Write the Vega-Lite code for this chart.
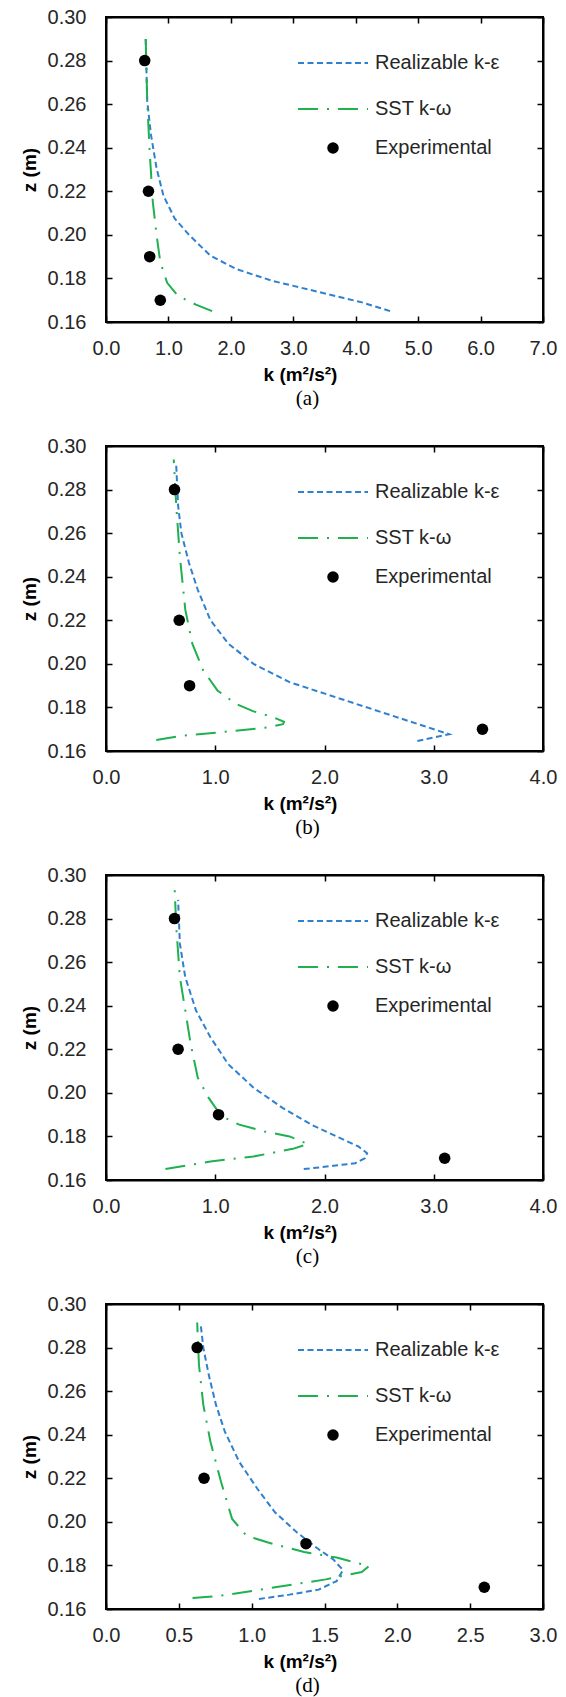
{"$schema":"https://vega.github.io/schema/vega-lite/v6.json","background":"white","padding":{"left":19,"top":6,"right":5,"bottom":0},"spacing":25,
"config":{"view":{"stroke":"black","strokeWidth":2},"axis":{"grid":false,"domain":true,"domainColor":"black","domainWidth":2,"ticks":true,"tickColor":"black","tickWidth":1.5,"tickSize":-6,"labelFont":"Liberation Sans","labelFontSize":20,"labelColor":"#262626","labelFlush":false,"labelOverlap":false,"titleFont":"Liberation Sans","titleFontSize":19,"titleFontWeight":"bold","titleColor":"black"},"legend":{"labelFont":"Liberation Sans","labelFontSize":20,"labelColor":"#262626","labelLimit":300},"title":{"font":"Liberation Serif","fontSize":21,"fontWeight":"normal","color":"black"}},
"datasets":{"L":[
{"p":"a","m":"R","k":0.635,"z":0.291},{"p":"a","m":"R","k":0.66,"z":0.2615},{"p":"a","m":"R","k":0.72,"z":0.246},{"p":"a","m":"R","k":0.81,"z":0.2306},{"p":"a","m":"R","k":0.92,"z":0.218},{"p":"a","m":"R","k":1.1,"z":0.2075},{"p":"a","m":"R","k":1.33,"z":0.2},{"p":"a","m":"R","k":1.67,"z":0.1905},{"p":"a","m":"R","k":2.08,"z":0.1844},{"p":"a","m":"R","k":2.65,"z":0.179},{"p":"a","m":"R","k":3.23,"z":0.175},{"p":"a","m":"R","k":3.81,"z":0.171},{"p":"a","m":"R","k":4.1,"z":0.169},{"p":"a","m":"R","k":4.55,"z":0.165},
{"p":"a","m":"S","k":0.635,"z":0.2915},{"p":"a","m":"S","k":0.66,"z":0.2615},{"p":"a","m":"S","k":0.7,"z":0.238},{"p":"a","m":"S","k":0.75,"z":0.215},{"p":"a","m":"S","k":0.81,"z":0.2},{"p":"a","m":"S","k":0.87,"z":0.1874},{"p":"a","m":"S","k":0.98,"z":0.178},{"p":"a","m":"S","k":1.15,"z":0.172},{"p":"a","m":"S","k":1.44,"z":0.168},{"p":"a","m":"S","k":1.7,"z":0.165},
{"p":"b","m":"R","k":0.643,"z":0.291},{"p":"b","m":"R","k":0.66,"z":0.2726},{"p":"b","m":"R","k":0.69,"z":0.26},{"p":"b","m":"R","k":0.76,"z":0.2463},{"p":"b","m":"R","k":0.84,"z":0.234},{"p":"b","m":"R","k":0.956,"z":0.22},{"p":"b","m":"R","k":1.12,"z":0.2093},{"p":"b","m":"R","k":1.35,"z":0.2},{"p":"b","m":"R","k":1.68,"z":0.1916},{"p":"b","m":"R","k":2.01,"z":0.1862},{"p":"b","m":"R","k":2.34,"z":0.1808},{"p":"b","m":"R","k":2.67,"z":0.1754},{"p":"b","m":"R","k":3.0,"z":0.17},{"p":"b","m":"R","k":3.14,"z":0.1677},{"p":"b","m":"R","k":3.0,"z":0.1662},{"p":"b","m":"R","k":2.85,"z":0.1646},
{"p":"b","m":"S","k":0.62,"z":0.2938},{"p":"b","m":"S","k":0.643,"z":0.2726},{"p":"b","m":"S","k":0.676,"z":0.2494},{"p":"b","m":"S","k":0.726,"z":0.2248},{"p":"b","m":"S","k":0.79,"z":0.2093},{"p":"b","m":"S","k":0.89,"z":0.197},{"p":"b","m":"S","k":1.02,"z":0.1878},{"p":"b","m":"S","k":1.19,"z":0.1816},{"p":"b","m":"S","k":1.35,"z":0.1782},{"p":"b","m":"S","k":1.52,"z":0.1757},{"p":"b","m":"S","k":1.63,"z":0.1734},{"p":"b","m":"S","k":1.62,"z":0.1723},{"p":"b","m":"S","k":1.48,"z":0.1708},{"p":"b","m":"S","k":1.02,"z":0.1685},{"p":"b","m":"S","k":0.69,"z":0.167},{"p":"b","m":"S","k":0.46,"z":0.165},
{"p":"c","m":"R","k":0.66,"z":0.2886},{"p":"c","m":"R","k":0.676,"z":0.2686},{"p":"c","m":"R","k":0.725,"z":0.2532},{"p":"c","m":"R","k":0.824,"z":0.2378},{"p":"c","m":"R","k":0.956,"z":0.2255},{"p":"c","m":"R","k":1.12,"z":0.2131},{"p":"c","m":"R","k":1.35,"z":0.2024},{"p":"c","m":"R","k":1.616,"z":0.1931},{"p":"c","m":"R","k":1.88,"z":0.1854},{"p":"c","m":"R","k":2.14,"z":0.1793},{"p":"c","m":"R","k":2.31,"z":0.1754},{"p":"c","m":"R","k":2.39,"z":0.1723},{"p":"c","m":"R","k":2.37,"z":0.17},{"p":"c","m":"R","k":2.28,"z":0.1677},{"p":"c","m":"R","k":2.08,"z":0.1665},{"p":"c","m":"R","k":1.81,"z":0.165},
{"p":"c","m":"S","k":0.627,"z":0.2955},{"p":"c","m":"S","k":0.643,"z":0.2763},{"p":"c","m":"S","k":0.676,"z":0.2532},{"p":"c","m":"S","k":0.726,"z":0.2378},{"p":"c","m":"S","k":0.775,"z":0.2224},{"p":"c","m":"S","k":0.84,"z":0.207},{"p":"c","m":"S","k":0.94,"z":0.1977},{"p":"c","m":"S","k":1.056,"z":0.1893},{"p":"c","m":"S","k":1.22,"z":0.1854},{"p":"c","m":"S","k":1.45,"z":0.1823},{"p":"c","m":"S","k":1.68,"z":0.18},{"p":"c","m":"S","k":1.85,"z":0.1765},{"p":"c","m":"S","k":1.71,"z":0.1743},{"p":"c","m":"S","k":1.35,"z":0.1708},{"p":"c","m":"S","k":0.956,"z":0.1685},{"p":"c","m":"S","k":0.544,"z":0.165},
{"p":"d","m":"R","k":0.65,"z":0.2907},{"p":"d","m":"R","k":0.668,"z":0.28},{"p":"d","m":"R","k":0.705,"z":0.2676},{"p":"d","m":"R","k":0.755,"z":0.2537},{"p":"d","m":"R","k":0.816,"z":0.2414},{"p":"d","m":"R","k":0.915,"z":0.2275},{"p":"d","m":"R","k":1.039,"z":0.2152},{"p":"d","m":"R","k":1.16,"z":0.2044},{"p":"d","m":"R","k":1.31,"z":0.1952},{"p":"d","m":"R","k":1.46,"z":0.1874},{"p":"d","m":"R","k":1.558,"z":0.1829},{"p":"d","m":"R","k":1.627,"z":0.1779},{"p":"d","m":"R","k":1.583,"z":0.1728},{"p":"d","m":"R","k":1.46,"z":0.1689},{"p":"d","m":"R","k":1.26,"z":0.1666},{"p":"d","m":"R","k":1.05,"z":0.1646},
{"p":"d","m":"S","k":0.626,"z":0.2915},{"p":"d","m":"S","k":0.638,"z":0.2722},{"p":"d","m":"S","k":0.668,"z":0.2537},{"p":"d","m":"S","k":0.717,"z":0.2368},{"p":"d","m":"S","k":0.79,"z":0.2183},{"p":"d","m":"S","k":0.866,"z":0.2013},{"p":"d","m":"S","k":0.965,"z":0.1936},{"p":"d","m":"S","k":1.113,"z":0.1905},{"p":"d","m":"S","k":1.36,"z":0.1862},{"p":"d","m":"S","k":1.583,"z":0.1836},{"p":"d","m":"S","k":1.806,"z":0.1797},{"p":"d","m":"S","k":1.756,"z":0.177},{"p":"d","m":"S","k":1.509,"z":0.1736},{"p":"d","m":"S","k":1.138,"z":0.1697},{"p":"d","m":"S","k":0.767,"z":0.1659},{"p":"d","m":"S","k":0.594,"z":0.165}],
"E":[{"p":"a","s":"Experimental","k":0.62,"z":0.28},{"p":"a","s":"Experimental","k":0.68,"z":0.22},{"p":"a","s":"Experimental","k":0.7,"z":0.19},{"p":"a","s":"Experimental","k":0.87,"z":0.17},{"p":"b","s":"Experimental","k":0.627,"z":0.28},{"p":"b","s":"Experimental","k":0.67,"z":0.22},{"p":"b","s":"Experimental","k":0.765,"z":0.19},{"p":"b","s":"Experimental","k":3.446,"z":0.17},{"p":"c","s":"Experimental","k":0.627,"z":0.28},{"p":"c","s":"Experimental","k":0.66,"z":0.22},{"p":"c","s":"Experimental","k":1.03,"z":0.19},{"p":"c","s":"Experimental","k":3.1,"z":0.17},{"p":"d","s":"Experimental","k":0.626,"z":0.28},{"p":"d","s":"Experimental","k":0.673,"z":0.22},{"p":"d","s":"Experimental","k":1.373,"z":0.19},{"p":"d","s":"Experimental","k":2.597,"z":0.17}]},
"resolve":{"scale":{"color":"independent","strokeDash":"independent","shape":"independent"}},
"vconcat":[
{"width":437,"height":305,"title":{"text":"(a)","orient":"bottom","dx":-17,"offset":4},"resolve":{"axis":{"x":"independent","y":"independent"}},"layer":[
{"data":{"name":"L"},"transform":[{"filter":"datum.p=='a'"}],"mark":{"type":"line","strokeWidth":2},"encoding":{"x":{"field":"k","type":"quantitative","scale":{"domain":[0,7],"nice":false,"zero":false},"axis":{"orient":"bottom","values":[0,1,2,3,4,5,6,7],"format":".1f","labelPadding":22,"title":"k (m²/s²)","titleX":194,"titleY":52,"titleBaseline":"middle","titleAlign":"center"}},"y":{"field":"z","type":"quantitative","scale":{"domain":[0.16,0.3],"nice":false,"zero":false},"axis":{"orient":"left","values":[0.16,0.18,0.2,0.22,0.24,0.26,0.28,0.3],"format":".2f","labelPadding":26,"title":"z (m)","titleX":-77,"titleY":152.5,"titleBaseline":"middle","titleAlign":"center","titleAngle":-90}},"color":{"field":"m","type":"nominal","scale":{"domain":["R","S"],"range":["#2f80d0","#1fb050"]},"legend":{"orient":"none","legendX":191,"legendY":10,"title":null,"symbolType":"stroke","symbolSize":4900,"symbolStrokeWidth":2,"labelOffset":6,"rowPadding":-14,"padding":0,"labelExpr":"datum.label=='R'?'Realizable  k-ε':'SST k-ω'"}},"strokeDash":{"field":"m","type":"nominal","scale":{"domain":["R","S"],"range":[[6,3.5],[20,9,2,9]]},"legend":{"orient":"none","legendX":191,"legendY":10,"title":null,"symbolType":"stroke","symbolSize":4900,"symbolStrokeWidth":2,"labelOffset":6,"rowPadding":-14,"padding":0,"labelExpr":"datum.label=='R'?'Realizable  k-ε':'SST k-ω'"}},"order":{"field":"z","type":"quantitative"}}},
{"data":{"name":"E"},"transform":[{"filter":"datum.p=='a'"}],"mark":{"type":"point","filled":true,"color":"black","size":133,"opacity":1},"encoding":{"x":{"field":"k","type":"quantitative","scale":{"domain":[0,7],"nice":false,"zero":false},"axis":{"orient":"top","values":[0,1,2,3,4,5,6,7],"labels":false,"title":null}},"y":{"field":"z","type":"quantitative","scale":{"domain":[0.16,0.3],"nice":false,"zero":false},"axis":{"orient":"right","values":[0.16,0.18,0.2,0.22,0.24,0.26,0.28,0.3],"labels":false,"title":null}},"shape":{"field":"s","type":"nominal","scale":{"domain":["Experimental"],"range":["circle"]},"legend":{"orient":"none","legendX":217,"legendY":121,"title":null,"symbolSize":133,"symbolFillColor":"black","symbolStrokeWidth":0,"labelOffset":32,"padding":0}}}}]},
{"width":437,"height":305,"title":{"text":"(b)","orient":"bottom","dx":-17,"offset":4},"resolve":{"axis":{"x":"independent","y":"independent"}},"layer":[
{"data":{"name":"L"},"transform":[{"filter":"datum.p=='b'"}],"mark":{"type":"line","strokeWidth":2},"encoding":{"x":{"field":"k","type":"quantitative","scale":{"domain":[0,4],"nice":false,"zero":false},"axis":{"orient":"bottom","values":[0,1,2,3,4],"format":".1f","labelPadding":22,"title":"k (m²/s²)","titleX":194,"titleY":52,"titleBaseline":"middle","titleAlign":"center"}},"y":{"field":"z","type":"quantitative","scale":{"domain":[0.16,0.3],"nice":false,"zero":false},"axis":{"orient":"left","values":[0.16,0.18,0.2,0.22,0.24,0.26,0.28,0.3],"format":".2f","labelPadding":26,"title":"z (m)","titleX":-77,"titleY":152.5,"titleBaseline":"middle","titleAlign":"center","titleAngle":-90}},"color":{"field":"m","type":"nominal","scale":{"domain":["R","S"],"range":["#2f80d0","#1fb050"]},"legend":{"orient":"none","legendX":191,"legendY":10,"title":null,"symbolType":"stroke","symbolSize":4900,"symbolStrokeWidth":2,"labelOffset":6,"rowPadding":-14,"padding":0,"labelExpr":"datum.label=='R'?'Realizable  k-ε':'SST k-ω'"}},"strokeDash":{"field":"m","type":"nominal","scale":{"domain":["R","S"],"range":[[6,3.5],[20,9,2,9]]},"legend":{"orient":"none","legendX":191,"legendY":10,"title":null,"symbolType":"stroke","symbolSize":4900,"symbolStrokeWidth":2,"labelOffset":6,"rowPadding":-14,"padding":0,"labelExpr":"datum.label=='R'?'Realizable  k-ε':'SST k-ω'"}},"order":{"field":"z","type":"quantitative"}}},
{"data":{"name":"E"},"transform":[{"filter":"datum.p=='b'"}],"mark":{"type":"point","filled":true,"color":"black","size":133,"opacity":1},"encoding":{"x":{"field":"k","type":"quantitative","scale":{"domain":[0,4],"nice":false,"zero":false},"axis":{"orient":"top","values":[0,1,2,3,4],"labels":false,"title":null}},"y":{"field":"z","type":"quantitative","scale":{"domain":[0.16,0.3],"nice":false,"zero":false},"axis":{"orient":"right","values":[0.16,0.18,0.2,0.22,0.24,0.26,0.28,0.3],"labels":false,"title":null}},"shape":{"field":"s","type":"nominal","scale":{"domain":["Experimental"],"range":["circle"]},"legend":{"orient":"none","legendX":217,"legendY":121,"title":null,"symbolSize":133,"symbolFillColor":"black","symbolStrokeWidth":0,"labelOffset":32,"padding":0}}}}]},
{"width":437,"height":305,"title":{"text":"(c)","orient":"bottom","dx":-17,"offset":4},"resolve":{"axis":{"x":"independent","y":"independent"}},"layer":[
{"data":{"name":"L"},"transform":[{"filter":"datum.p=='c'"}],"mark":{"type":"line","strokeWidth":2},"encoding":{"x":{"field":"k","type":"quantitative","scale":{"domain":[0,4],"nice":false,"zero":false},"axis":{"orient":"bottom","values":[0,1,2,3,4],"format":".1f","labelPadding":22,"title":"k (m²/s²)","titleX":194,"titleY":52,"titleBaseline":"middle","titleAlign":"center"}},"y":{"field":"z","type":"quantitative","scale":{"domain":[0.16,0.3],"nice":false,"zero":false},"axis":{"orient":"left","values":[0.16,0.18,0.2,0.22,0.24,0.26,0.28,0.3],"format":".2f","labelPadding":26,"title":"z (m)","titleX":-77,"titleY":152.5,"titleBaseline":"middle","titleAlign":"center","titleAngle":-90}},"color":{"field":"m","type":"nominal","scale":{"domain":["R","S"],"range":["#2f80d0","#1fb050"]},"legend":{"orient":"none","legendX":191,"legendY":10,"title":null,"symbolType":"stroke","symbolSize":4900,"symbolStrokeWidth":2,"labelOffset":6,"rowPadding":-14,"padding":0,"labelExpr":"datum.label=='R'?'Realizable  k-ε':'SST k-ω'"}},"strokeDash":{"field":"m","type":"nominal","scale":{"domain":["R","S"],"range":[[6,3.5],[20,9,2,9]]},"legend":{"orient":"none","legendX":191,"legendY":10,"title":null,"symbolType":"stroke","symbolSize":4900,"symbolStrokeWidth":2,"labelOffset":6,"rowPadding":-14,"padding":0,"labelExpr":"datum.label=='R'?'Realizable  k-ε':'SST k-ω'"}},"order":{"field":"z","type":"quantitative"}}},
{"data":{"name":"E"},"transform":[{"filter":"datum.p=='c'"}],"mark":{"type":"point","filled":true,"color":"black","size":133,"opacity":1},"encoding":{"x":{"field":"k","type":"quantitative","scale":{"domain":[0,4],"nice":false,"zero":false},"axis":{"orient":"top","values":[0,1,2,3,4],"labels":false,"title":null}},"y":{"field":"z","type":"quantitative","scale":{"domain":[0.16,0.3],"nice":false,"zero":false},"axis":{"orient":"right","values":[0.16,0.18,0.2,0.22,0.24,0.26,0.28,0.3],"labels":false,"title":null}},"shape":{"field":"s","type":"nominal","scale":{"domain":["Experimental"],"range":["circle"]},"legend":{"orient":"none","legendX":217,"legendY":121,"title":null,"symbolSize":133,"symbolFillColor":"black","symbolStrokeWidth":0,"labelOffset":32,"padding":0}}}}]},
{"width":437,"height":305,"title":{"text":"(d)","orient":"bottom","dx":-17,"offset":4},"resolve":{"axis":{"x":"independent","y":"independent"}},"layer":[
{"data":{"name":"L"},"transform":[{"filter":"datum.p=='d'"}],"mark":{"type":"line","strokeWidth":2},"encoding":{"x":{"field":"k","type":"quantitative","scale":{"domain":[0,3],"nice":false,"zero":false},"axis":{"orient":"bottom","values":[0,0.5,1,1.5,2,2.5,3],"format":".1f","labelPadding":22,"title":"k (m²/s²)","titleX":194,"titleY":52,"titleBaseline":"middle","titleAlign":"center"}},"y":{"field":"z","type":"quantitative","scale":{"domain":[0.16,0.3],"nice":false,"zero":false},"axis":{"orient":"left","values":[0.16,0.18,0.2,0.22,0.24,0.26,0.28,0.3],"format":".2f","labelPadding":26,"title":"z (m)","titleX":-77,"titleY":152.5,"titleBaseline":"middle","titleAlign":"center","titleAngle":-90}},"color":{"field":"m","type":"nominal","scale":{"domain":["R","S"],"range":["#2f80d0","#1fb050"]},"legend":{"orient":"none","legendX":191,"legendY":10,"title":null,"symbolType":"stroke","symbolSize":4900,"symbolStrokeWidth":2,"labelOffset":6,"rowPadding":-14,"padding":0,"labelExpr":"datum.label=='R'?'Realizable  k-ε':'SST k-ω'"}},"strokeDash":{"field":"m","type":"nominal","scale":{"domain":["R","S"],"range":[[6,3.5],[20,9,2,9]]},"legend":{"orient":"none","legendX":191,"legendY":10,"title":null,"symbolType":"stroke","symbolSize":4900,"symbolStrokeWidth":2,"labelOffset":6,"rowPadding":-14,"padding":0,"labelExpr":"datum.label=='R'?'Realizable  k-ε':'SST k-ω'"}},"order":{"field":"z","type":"quantitative"}}},
{"data":{"name":"E"},"transform":[{"filter":"datum.p=='d'"}],"mark":{"type":"point","filled":true,"color":"black","size":133,"opacity":1},"encoding":{"x":{"field":"k","type":"quantitative","scale":{"domain":[0,3],"nice":false,"zero":false},"axis":{"orient":"top","values":[0,0.5,1,1.5,2,2.5,3],"labels":false,"title":null}},"y":{"field":"z","type":"quantitative","scale":{"domain":[0.16,0.3],"nice":false,"zero":false},"axis":{"orient":"right","values":[0.16,0.18,0.2,0.22,0.24,0.26,0.28,0.3],"labels":false,"title":null}},"shape":{"field":"s","type":"nominal","scale":{"domain":["Experimental"],"range":["circle"]},"legend":{"orient":"none","legendX":217,"legendY":121,"title":null,"symbolSize":133,"symbolFillColor":"black","symbolStrokeWidth":0,"labelOffset":32,"padding":0}}}}]}
]}
